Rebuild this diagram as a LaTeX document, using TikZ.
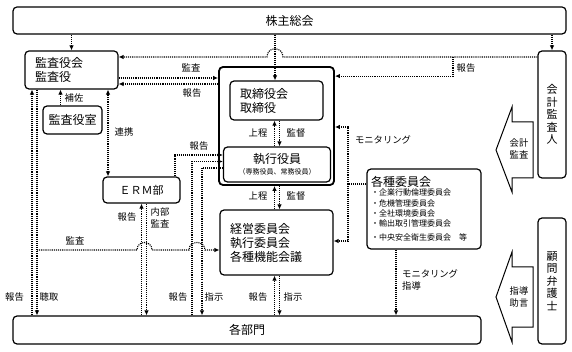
\documentclass[tikz,border=0pt]{standalone}
\usepackage{fontspec}
\setmainfont{Noto Sans CJK JP}
\usetikzlibrary{arrows.meta}
\begin{document}
\begin{tikzpicture}[x=1pt,y=-1pt,
  box/.style={draw, rounded corners=4pt, line width=1.2pt, inner sep=0pt, align=center, font=\fontsize{12}{14}\selectfont},
  dot/.style={line width=1.1pt, dash pattern=on 1.1pt off 1pt},
  conn/.style={dot, -{Latex[length=5pt,width=4.5pt]}},
  conn2/.style={dot, {Latex[length=5pt,width=4.5pt]}-{Latex[length=5pt,width=4.5pt]}},
  lbl/.style={font=\fontsize{9.3}{11.3}\selectfont, inner sep=0pt, align=center},
  blk/.style={draw, line width=1pt, line join=miter}
]
\fill[white] (0,0) rectangle (572,352);
\useasboundingbox (0,0) rectangle (572,352);

% boxes
\node[box, minimum width=553pt, minimum height=27pt] (sh) at (289.5,20.5) {株主総会};
\node[box, minimum width=93pt, minimum height=38pt, text width=73pt, align=left] (kansa) at (71.5,70) {監査役会\\監査役};
\node[box, minimum width=59pt, minimum height=28pt] (shitsu) at (72.5,120) {監査役室};
\node[box, minimum width=77pt, minimum height=26pt, font=\fontsize{11}{13}\selectfont] (erm) at (141.5,190) {ＥＲＭ部};
\node[box, line width=1.8pt, minimum width=115pt, minimum height=118pt] (outer) at (276.5,126) {};
\node[box, minimum width=93pt, minimum height=39pt, text width=73pt, align=left] (tori) at (276.5,100.5) {取締役会\\取締役};
\node[box, minimum width=107pt, minimum height=35pt] (shikko) at (277,164.5) {執行役員\\[-3pt]{\fontsize{7}{8}\selectfont （専務役員、常務役員）}};
\node[box, minimum width=113pt, minimum height=65pt, text width=93pt, align=left] (keiei) at (276.5,242.5) {経営委員会\\執行委員会\\各種機能会議};
\node[box, minimum width=114pt, minimum height=80pt, text width=106pt, align=left] (kakushu) at (424,209)
  {\fontsize{12}{13}\selectfont 各種委員会\\[-1pt]
   \fontsize{8}{10.3}\selectfont ・企業行動倫理委員会\\・危機管理委員会\\・全社環境委員会\\・輸出取引管理委員会\\・中央安全衛生委員会　等};
\node[box, minimum width=468pt, minimum height=28pt] (kakubu) at (247,330) {各部門};
\node[box, minimum width=28pt, minimum height=127pt, font=\fontsize{11}{12.5}\selectfont] (kaikei) at (552,114.5) {会\\計\\監\\査\\人};
\node[box, minimum width=28pt, minimum height=126pt, font=\fontsize{11}{12.5}\selectfont] (komon) at (552,281) {顧\\問\\弁\\護\\士};

% block arrows
\draw[blk] (533,122) -- (512,122) -- (512,107) -- (496,150) -- (512,192) -- (512,178) -- (533,178) -- cycle;
\node[lbl] (kaikeikansa) at (519,149) {会計\\監査};
\draw[blk] (533,267) -- (512,267) -- (512,252) -- (496,297) -- (512,342) -- (512,327) -- (533,327) -- cycle;
\node[lbl] (shidojogen) at (519,297) {指導\\助言};

% coordinates
\coordinate (hopA) at (283,57);
\coordinate (hopB) at (267,57);
\coordinate (br) at (453,57);
\coordinate (kA) at (37,250);
\coordinate (m) at (348,184);

% connectors top
\draw[conn] (kansa.north |- sh.south) -- (kansa.north);
\draw[conn] ([xshift=-1.5pt]tori.north |- sh.south) -- ([xshift=-1.5pt]tori.north);
\draw[conn] (kaikei.north |- sh.south) -- (kaikei.north);
\draw[conn] (kaikei.west |- hopA) -- (hopA) .. controls +(0,-11) and +(0,-11) .. (hopB) -- (kansa.east |- hopA);
\draw[conn] (br) |- ([yshift=-10pt]outer.north east);
\node[lbl] (l1) at (466,68) {報告};

\draw[conn] ([yshift=-8pt]kansa.east) -- ([yshift=-8pt]kansa.east -| outer.west);
\draw[conn] ([yshift=-14pt]kansa.east -| outer.west) -- ([yshift=-14pt]kansa.east);
\node[lbl] (l2) at (191,68) {監査};
\node[lbl] (l3) at (192,93) {報告};

\draw[conn] ([xshift=-12pt]shitsu.north) -- ([xshift=-12pt]shitsu.north |- kansa.south);
\node[lbl] (l4) at (74,98) {補佐};
\draw[conn2] ([xshift=-33.5pt]erm.north) -- ([xshift=-33.5pt]erm.north |- kansa.south);
\node[lbl] (l5) at (124,132) {連携};

% left verticals
\draw[conn] ([xshift=-39.5pt]kansa.south |- kakubu.north) -- ([xshift=-39.5pt]kansa.south);
\draw[conn] ([xshift=-34.5pt]kansa.south) -- ([xshift=-34.5pt]kansa.south |- kakubu.north);
\node[lbl] (l6) at (14.5,297) {報告};
\node[lbl] (l7) at (49,297) {聴取};

% audit line with hops
\draw[conn] (kA) -- (137,250) .. controls +(0,-10) and +(0,-10) .. (152,250) -- (189,250) .. controls +(0,-10) and +(0,-10) .. (205,250) -- (keiei.west |- kA);
\node[lbl] (l8) at (75,241) {監査};

% ERM
\draw[conn] (erm.south |- kakubu.north) -- (erm.south);
\draw[conn] ([xshift=5pt]erm.south) -- ([xshift=5pt]erm.south |- kakubu.north);
\node[lbl] (l9) at (127,217) {報告};
\node[lbl] (l10) at (160,218) {内部\\監査};
\draw[conn] ([xshift=33.5pt]erm.north) |- ([yshift=9.5pt]shikko.west);
\node[lbl] (l11) at (199,146) {報告};

% kakubu <-> shikko
\draw[conn] ([xshift=-55pt]kakubu.north) |- ([yshift=3pt]shikko.west);
\draw[conn] ([yshift=-3.5pt]shikko.west) -| ([xshift=-45pt]kakubu.north);
\node[lbl] (l12) at (178,297) {報告};
\node[lbl] (l13) at (214,297) {指示};

% tori <-> shikko
\draw[conn] ([xshift=-2pt]tori.south |- shikko.north) -- ([xshift=-2pt]tori.south);
\draw[conn] ([xshift=3pt]tori.south) -- ([xshift=3pt]tori.south |- shikko.north);
\node[lbl] (l14) at (258,133) {上程};
\node[lbl] (l15) at (296,133) {監督};

% shikko <-> keiei
\draw[conn] ([xshift=-2pt]keiei.north) -- ([xshift=-2pt]keiei.north |- outer.south);
\draw[conn] ([xshift=3pt]keiei.north |- outer.south) -- ([xshift=3pt]keiei.north);
\node[lbl] (l16) at (258,196) {上程};
\node[lbl] (l17) at (296,196) {監督};

% keiei <-> kakubu
\draw[conn] ([xshift=-2pt]keiei.south |- kakubu.north) -- ([xshift=-2pt]keiei.south);
\draw[conn] ([xshift=3pt]keiei.south) -- ([xshift=3pt]keiei.south |- kakubu.north);
\node[lbl] (l18) at (258,297) {報告};
\node[lbl] (l19) at (293,297) {指示};

% monitoring
\draw[dot] ([yshift=25pt]kakushu.west) -- (m);
\draw[conn] (m) |- ([yshift=-1pt]outer.east);
\draw[conn] (m) |- ([yshift=1.5pt]keiei.east);
\node[lbl] (l20) at (383,140) {モニタリング};
\draw[conn] ([xshift=-28pt]kakushu.south) -- ([xshift=-28pt]kakushu.south |- kakubu.north);
\node[lbl, anchor=west, align=left] (l21) at (402,280) {モニタリング\\指導};
\end{tikzpicture}
\end{document}
